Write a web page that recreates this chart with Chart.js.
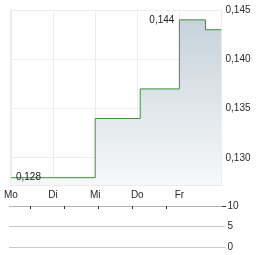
<!DOCTYPE html>
<html>
<head>
<meta charset="utf-8">
<script src="https://cdn.jsdelivr.net/npm/chart.js@4"></script>
<style>
  html, body { margin: 0; padding: 0; background: #fff; }
  #wrap { position: relative; width: 264px; height: 255px; }
  #priceBox { position: absolute; left: 0; top: 0; width: 264px; height: 198px; }
  #volBox { position: absolute; left: 0; top: 198px; width: 264px; height: 57px; }
</style>
</head>
<body>
<div id="wrap">
  <div id="priceBox"><canvas id="priceChart"></canvas></div>
  <div id="volBox"><canvas id="volChart"></canvas></div>
</div>
<script>
// Wochentage (x-Achse), Kursverlauf als Stufenlinie
const dayLabels = ['Mo', 'Di', 'Mi', 'Do', 'Fr'];
const priceTimes = [0, 2, 3.07, 4, 4.62, 5];
const prices = [0.128, 0.134, 0.137, 0.144, 0.143, 0.143];
const priceTicks = [0.130, 0.135, 0.140, 0.145];
const volumes = [0, 0, 0, 0, 0];
const volumeTicks = [0, 5, 10];

Chart.defaults.font.family = "'Liberation Sans', Arial, sans-serif";
Chart.defaults.font.size = 10;
Chart.defaults.color = '#2a2a2a';

const fmt = v => v.toFixed(3).replace('.', ',');

const extremeLabels = {
    id: 'extremeLabels',
    afterDatasetsDraw(chart) {
        const ctx = chart.ctx;
        const xs = chart.scales.x, ys = chart.scales.y;
        let iMin = 0, iMax = 0;
        prices.forEach((p, i) => {
            if (p < prices[iMin]) iMin = i;
            if (p > prices[iMax]) iMax = i;
        });
        ctx.save();
        ctx.font = "10px 'Liberation Sans', Arial, sans-serif";
        ctx.fillStyle = '#222';
        ctx.textBaseline = 'middle';
        ctx.textAlign = 'left';
        ctx.fillText(fmt(prices[iMin]), xs.getPixelForValue(priceTimes[iMin]) + 5, ys.getPixelForValue(prices[iMin]));
        ctx.textAlign = 'right';
        ctx.fillText(fmt(prices[iMax]), xs.getPixelForValue(priceTimes[iMax]) - 5, ys.getPixelForValue(prices[iMax]));
        ctx.restore();
    }
};

new Chart(document.getElementById('priceChart'), {
    type: 'line',
    data: {
        datasets: [{
            data: priceTimes.map((t, i) => ({ x: t, y: prices[i] })),
            stepped: true,
            borderColor: '#3f8f3f',
            borderWidth: 1,
            pointRadius: 0,
            fill: 'start',
            backgroundColor: (c) => {
                const area = c.chart.chartArea;
                if (!area) return '#dde3e8';
                const g = c.chart.ctx.createLinearGradient(0, area.top, 0, area.bottom);
                g.addColorStop(0, '#c5d0d9');
                g.addColorStop(1, '#f6f8f9');
                return g;
            }
        }]
    },
    options: {
        responsive: true,
        maintainAspectRatio: false,
        animation: false,
        layout: { padding: { left: 9, top: 7, right: 0, bottom: 0 } },
        plugins: { legend: { display: false }, tooltip: { enabled: false } },
        scales: {
            x: {
                type: 'linear',
                min: 0,
                max: 5,
                afterBuildTicks: s => { s.ticks = dayLabels.map((d, i) => ({ value: i })); },
                afterFit: s => { s.height = 13; },
                ticks: {
                    callback: v => dayLabels[v],
                    padding: 4,
                    maxRotation: 0,
                    autoSkip: false
                },
                grid: {
                    color: '#ececec',
                    lineWidth: c => c.index === 0 ? 2 : 1,
                    drawTicks: false
                },
                border: { color: '#ececec' }
            },
            y: {
                position: 'right',
                min: 0.12726,
                max: 0.145,
                afterBuildTicks: s => { s.ticks = priceTicks.map(v => ({ value: v })); },
                afterFit: s => { s.width = 42.5; },
                ticks: { callback: v => fmt(v), padding: 4 },
                grid: { color: '#ececec', drawTicks: false },
                border: { color: '#ececec' }
            }
        }
    },
    plugins: [extremeLabels]
});

new Chart(document.getElementById('volChart'), {
    type: 'bar',
    data: {
        labels: dayLabels,
        datasets: [{ data: volumes, backgroundColor: '#8fa3b5' }]
    },
    options: {
        responsive: true,
        maintainAspectRatio: false,
        animation: false,
        layout: { padding: { left: 9, top: 7, right: 0, bottom: 8 } },
        plugins: { legend: { display: false }, tooltip: { enabled: false } },
        scales: {
            x: {
                type: 'linear',
                position: 'top',
                min: 0,
                max: 5,
                afterBuildTicks: s => { s.ticks = dayLabels.map((d, i) => ({ value: i })); },
                afterFit: s => { s.height = 0; },
                ticks: { display: false },
                grid: { display: false },
                border: { display: false }
            },
            y: {
                position: 'right',
                min: 0,
                max: 10,
                afterBuildTicks: s => { s.ticks = volumeTicks.map(v => ({ value: v })); },
                afterFit: s => { s.width = 42.5; },
                ticks: { padding: 2 },
                grid: { color: '#c8c8c8', tickLength: 4 },
                border: { display: false }
            }
        }
    },
    plugins: [{
        id: 'dayTicks',
        afterDraw(chart) {
            const ctx = chart.ctx, xs = chart.scales.x, a = chart.chartArea;
            const top = Math.round(a.top);
            ctx.save();
            ctx.fillStyle = '#b4b4b4';
            ctx.fillRect(Math.round(a.left), top, Math.round(a.right - a.left), 1);
            ctx.fillStyle = '#333';
            xs.ticks.forEach(t => {
                ctx.fillRect(Math.round(xs.getPixelForValue(t.value)), top, 1, 3);
            });
            ctx.fillRect(Math.round(a.right), top, 4, 1);
            ctx.restore();
        }
    }]
});
</script>
</body>
</html>
